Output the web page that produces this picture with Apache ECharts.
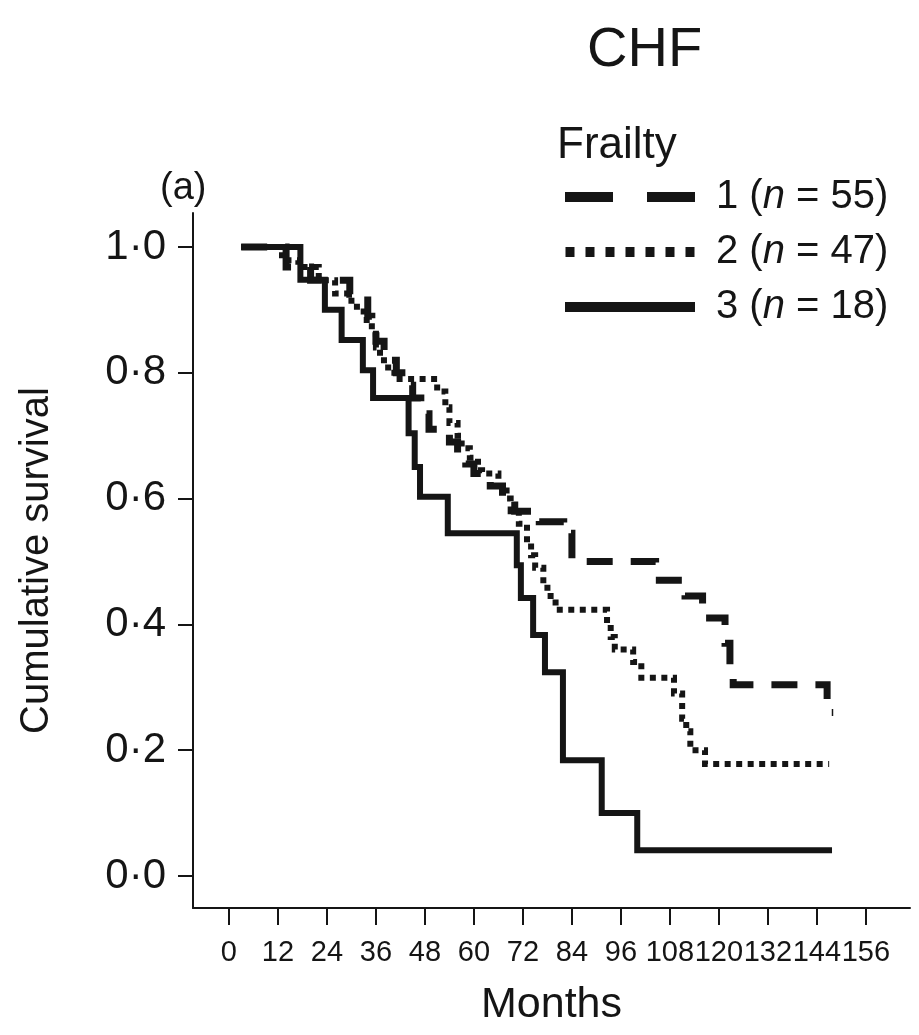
<!DOCTYPE html>
<html>
<head>
<meta charset="utf-8">
<script src="https://cdn.jsdelivr.net/npm/echarts@6/dist/echarts.min.js"></script>
<style>
html,body{margin:0;padding:0;background:#fff;}
#chart{width:919px;height:1035px;}
</style>
</head>
<body>
<div id="chart"></div>
<script>
// ---- data ----
const groups = ['1', '2', '3'];
const groupN = [55, 47, 18];

const months1 = [3, 14, 20, 29.6, 34, 35, 36, 38, 41, 44, 45, 47, 49, 54, 56, 58, 60, 64, 67, 70, 76, 82, 84, 104.5, 111.7, 116, 121.5, 122.7, 123.5, 146.5, 148];
const surv1   = [1.0, 0.968, 0.947, 0.925, 0.89, 0.87, 0.85, 0.82, 0.80, 0.78, 0.76, 0.735, 0.71, 0.69, 0.67, 0.655, 0.64, 0.62, 0.60, 0.58, 0.563, 0.545, 0.50, 0.47, 0.445, 0.41, 0.37, 0.33, 0.304, 0.26, 0.26];

const months2 = [3, 13, 17, 22, 26, 30, 33, 35, 36, 37, 39, 41, 51, 53, 54, 56, 57, 59, 61, 62, 66, 68, 69, 71, 73, 74, 75, 77, 78, 80, 92.6, 93.5, 94.5, 99, 101, 109, 111, 112, 113, 116.6, 147];
const surv2   = [1.0, 0.979, 0.968, 0.947, 0.926, 0.905, 0.884, 0.862, 0.84, 0.82, 0.80, 0.79, 0.77, 0.745, 0.72, 0.70, 0.68, 0.665, 0.645, 0.64, 0.62, 0.60, 0.58, 0.56, 0.53, 0.51, 0.49, 0.47, 0.445, 0.423, 0.40, 0.38, 0.36, 0.34, 0.315, 0.29, 0.25, 0.23, 0.20, 0.178, 0.178];

const months3 = [3, 17.5, 23.5, 27.6, 32.8, 35.3, 44, 45.5, 46.8, 53.6, 70.5, 71.5, 74.5, 77.4, 81.8, 91.3, 100, 147.7];
const surv3   = [1.0, 0.948, 0.90, 0.852, 0.804, 0.76, 0.704, 0.65, 0.603, 0.545, 0.494, 0.442, 0.383, 0.324, 0.184, 0.10, 0.041, 0.041];

const xTicks = [0, 12, 24, 36, 48, 60, 72, 84, 96, 108, 120, 132, 144, 156];
const yTicks = [0, 0.2, 0.4, 0.6, 0.8, 1.0];

// ---- helpers ----
function hasFont(name) {
  const c = document.createElement('canvas').getContext('2d');
  c.font = '40px monospace';
  const w1 = c.measureText('0123456789abcMWil').width;
  c.font = "40px '" + name + "', monospace";
  const w2 = c.measureText('0123456789abcMWil').width;
  return Math.abs(w1 - w2) > 0.5;
}
const narrow = hasFont('Liberation Sans Narrow');
const FONT = "'Liberation Sans', Arial, Helvetica, sans-serif";
const xLabelFont = narrow ? "'Liberation Sans Narrow', " + FONT : FONT;
const xLabelSize = narrow ? 37 : 29;
const INK = '#151515';

function pairs(xs, ys) { return xs.map((x, i) => [x, ys[i]]); }
const names = groups.map((g, i) => g + ' (n = ' + groupN[i] + ')');

const dashIcon = 'path://M0,0H48V10H0Z M82,0H130V10H82Z';
let dotPath = 'path://';
for (let k = 0; k < 7; k++) { const x0 = k * 20; dotPath += 'M' + x0 + ',0h9v10h-9Z '; }

const chart = echarts.init(document.getElementById('chart'), null, {renderer: 'canvas'});
const option = {
  backgroundColor: '#ffffff',
  animation: false,
  textStyle: {fontFamily: FONT, color: INK},
  title: {
    text: 'CHF',
    left: 582, top: 18,
    textStyle: {fontFamily: FONT, fontSize: 56, fontWeight: 'normal', color: INK}
  },
  graphic: [
    {type: 'text', left: 160, top: 170, style: {text: '(a)', font: "38px " + FONT, fill: INK}},
    {type: 'text', left: 557, top: 124, style: {text: 'Frailty', font: "44px " + FONT, fill: INK}}
  ],
  legend: {
    orient: 'vertical',
    left: 560, top: 170,
    itemWidth: 130, itemHeight: 10, itemGap: 11,
    selectedMode: false,
    data: [
      {name: names[0], icon: dashIcon},
      {name: names[1], icon: dotPath},
      {name: names[2], icon: 'rect'}
    ],
    formatter: function (name) {
      const i = names.indexOf(name);
      return '{a|' + groups[i] + ' (}{i|n}{a| = ' + groupN[i] + ')}';
    },
    textStyle: {
      fontFamily: FONT, fontSize: 40, color: INK, lineHeight: 44,
      padding: [0, 0, 0, 16],
      rich: {
        a: {fontFamily: FONT, fontSize: 40, color: INK},
        i: {fontFamily: FONT, fontSize: 40, color: INK, fontStyle: 'italic'}
      }
    }
  },
  grid: {left: 193, right: 9, top: 213, bottom: 127, containLabel: false},
  xAxis: {
    type: 'value',
    min: -8.8, max: 166.8,
    name: 'Months',
    nameLocation: 'middle',
    nameGap: 76,
    nameTextStyle: {fontFamily: FONT, fontSize: 43, color: INK},
    axisLine: {show: true, onZero: false, lineStyle: {color: INK, width: 2}},
    axisTick: {show: true, customValues: xTicks, length: 17, lineStyle: {color: INK, width: 2}},
    axisLabel: {customValues: xTicks, margin: 30, fontFamily: xLabelFont, fontSize: xLabelSize, color: INK},
    splitLine: {show: false}
  },
  yAxis: {
    type: 'value',
    min: -0.051, max: 1.054,
    name: 'Cumulative survival',
    nameLocation: 'middle',
    nameGap: 136,
    nameTextStyle: {fontFamily: FONT, fontSize: 40, color: INK},
    axisLine: {show: true, onZero: false, lineStyle: {color: INK, width: 2}},
    axisTick: {show: true, customValues: yTicks, length: 15, lineStyle: {color: INK, width: 2}},
    axisLabel: {
      customValues: yTicks, margin: 27, fontFamily: FONT, fontSize: 42, color: INK,
      formatter: function (v) { return v.toFixed(1).replace('.', '\u00b7'); }
    },
    splitLine: {show: false}
  },
  series: [
    {name: names[0], type: 'line', step: 'end', symbol: 'none', data: pairs(months1, surv1),
     lineStyle: {color: INK, width: 7, type: [26, 18], cap: 'butt', join: 'miter'}, itemStyle: {color: INK}, z: 3},
    {name: names[1], type: 'line', step: 'end', symbol: 'none', data: pairs(months2, surv2),
     lineStyle: {color: INK, width: 6, type: [6, 5.5], cap: 'butt', join: 'miter'}, itemStyle: {color: INK}, z: 2},
    {name: names[2], type: 'line', step: 'end', symbol: 'none', data: pairs(months3, surv3),
     lineStyle: {color: INK, width: 6, type: 'solid', cap: 'butt', join: 'miter'}, itemStyle: {color: INK}, z: 4}
  ]
};
chart.setOption(option);
</script>
</body>
</html>
